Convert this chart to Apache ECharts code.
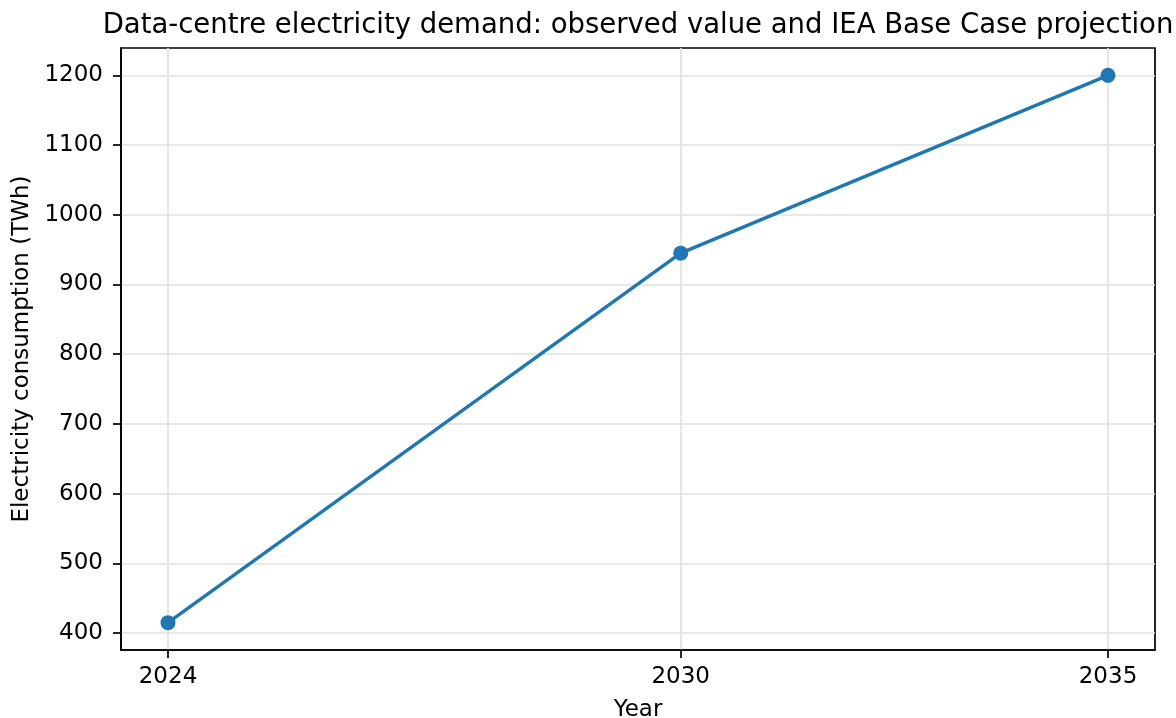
<!DOCTYPE html>
<html>
<head>
<meta charset="utf-8">
<title>Data-centre electricity demand</title>
<script src="https://cdn.jsdelivr.net/npm/echarts@6/dist/echarts.min.js"></script>
<style>
  html, body { margin: 0; padding: 0; background: #fff; }
  #chart { width: 1176px; height: 718px; }
</style>
</head>
<body>
<div id="chart"></div>
<script>
// data
const years = [2024, 2030, 2035];
const demandTWh = [415, 945, 1200];
const yTicks = [400, 500, 600, 700, 800, 900, 1000, 1100, 1200];

const FONT = "DejaVu Sans";
const ink = "#000";

// matplotlib style 5% margins around the data
const xPad = (years[years.length - 1] - years[0]) * 0.05;
const yLo = Math.min(...demandTWh), yHi = Math.max(...demandTWh);
const yPad = (yHi - yLo) * 0.05;

const myChart = echarts.init(document.getElementById("chart"));
const option = {
  animation: false,
  backgroundColor: "#fff",
  title: {
    text: "Data-centre electricity demand: observed value and IEA Base Case projection",
    left: 633,
    textAlign: "center",
    top: 7,
    textStyle: { fontFamily: FONT, fontSize: 27.5, fontWeight: "normal", color: ink },
  },
  grid: {
    left: 121,
    top: 48,
    width: 1034,
    height: 602,
    outerBoundsMode: "none",
    containLabel: false,
    show: true,
    borderColor: ink,
    borderWidth: 1.7,
    backgroundColor: "transparent",
  },
  xAxis: {
    type: "value",
    min: years[0] - xPad,
    max: years[years.length - 1] + xPad,
    name: "Year",
    nameLocation: "middle",
    nameGap: 49,
    nameTextStyle: { fontFamily: FONT, fontSize: 23, color: ink },
    axisLine: { show: true, lineStyle: { color: ink, width: 1.7 } },
    axisTick: {
      show: true,
      length: 8,
      customValues: years,
      lineStyle: { color: ink, width: 1.7 },
    },
    axisLabel: {
      customValues: years,
      margin: 16,
      fontFamily: FONT,
      fontSize: 23,
      color: ink,
      formatter: (v) => String(v),
    },
    splitLine: { show: true, lineStyle: { color: "#e0e0e0", width: 1.6 } },
  },
  yAxis: {
    type: "value",
    min: yLo - yPad,
    max: yHi + yPad,
    name: "Electricity consumption (TWh)",
    nameLocation: "middle",
    nameGap: 84,
    nameTextStyle: { fontFamily: FONT, fontSize: 23, color: ink },
    axisLine: { show: true, lineStyle: { color: ink, width: 1.7 } },
    axisTick: {
      show: true,
      length: 8,
      customValues: yTicks,
      lineStyle: { color: ink, width: 1.7 },
    },
    axisLabel: {
      customValues: yTicks,
      margin: 18,
      fontFamily: FONT,
      fontSize: 23,
      color: ink,
      formatter: (v) => String(v),
    },
    splitLine: { show: true, lineStyle: { color: "#e0e0e0", width: 1.6 } },
  },
  series: [
    {
      type: "line",
      data: years.map((y, i) => [y, demandTWh[i]]),
      symbol: "circle",
      symbolSize: 15,
      showAllSymbol: true,
      itemStyle: { color: "#1f77b4" },
      lineStyle: { color: "#1f77b4", width: 3.4 },
    },
  ],
};
myChart.setOption(option);
</script>
</body>
</html>
